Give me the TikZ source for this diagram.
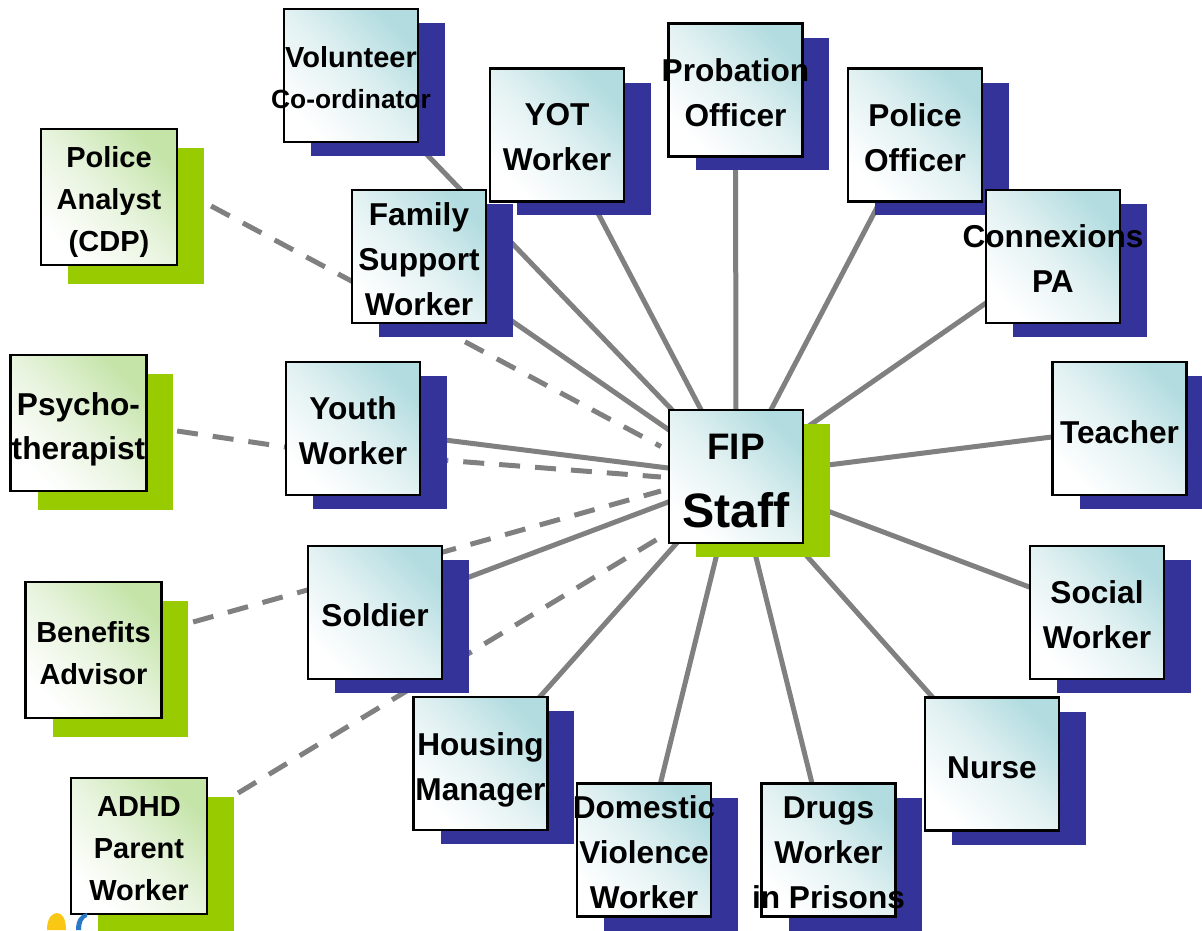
\documentclass[tikz,border=0pt]{standalone}
\usepackage{fontspec}
\setmainfont{Liberation Sans}
\usetikzlibrary{shadows,backgrounds}
\definecolor{shblue}{RGB}{51,51,153}
\definecolor{shgreen}{RGB}{153,204,0}
\definecolor{topcyan}{RGB}{178,220,224}
\definecolor{midcyan}{RGB}{226,241,242}
\definecolor{topgreen}{RGB}{196,228,168}
\definecolor{midgreen}{RGB}{232,244,222}
\definecolor{linegrey}{RGB}{128,128,128}
\definecolor{logoyellow}{RGB}{250,200,20}
\definecolor{logoblue}{RGB}{40,120,200}
\tikzset{
  box/.style={draw=black, line width=1.3pt, minimum width=2.68cm, minimum height=2.66cm, inner sep=0pt},
  bluebox/.style={box, top color=topcyan, bottom color=white, middle color=midcyan, shading angle=-45,
    general shadow={fill=shblue, shadow xshift=0.54cm, shadow yshift=-0.28cm}},
  greenbox/.style={box, minimum width=2.72cm, minimum height=2.72cm, top color=topgreen, bottom color=white,
    middle color=midgreen, shading angle=-45,
    general shadow={fill=shgreen, shadow xshift=0.54cm, shadow yshift=-0.38cm}},
  lbl/.style={align=center, inner sep=0pt, yshift=-0.05cm, font=\bfseries\fontsize{18}{25.6}\selectfont},
  glbl/.style={align=center, inner sep=0pt, yshift=-0.06cm, font=\bfseries\fontsize{16.5}{23.9}\selectfont},
  link/.style={draw=linegrey, line width=0.1cm},
  dlink/.style={link, dash pattern=on 0.42cm off 0.3cm},
}
\begin{document}
\begin{tikzpicture}[x=0.02cm, y=-0.02cm]
\useasboundingbox (0,0) rectangle (1202,930);

% blue boxes
\node[bluebox] (vol)   at (351,75.5)   {};
\node[bluebox] (yot)   at (557,135)    {};
\node[bluebox] (prob)  at (735.5,90)   {};
\node[bluebox] (polo)  at (915,135)    {};
\node[bluebox] (conn)  at (1053,256.5) {};
\node[bluebox] (teach) at (1119.5,428.5) {};
\node[bluebox] (soc)   at (1097,612.5) {};
\node[bluebox] (nurse) at (992,764)    {};
\node[bluebox] (drugs) at (828.5,850)  {};
\node[bluebox] (dv)    at (644,850)    {};
\node[bluebox] (house) at (480.5,763.5) {};
\node[bluebox] (sold)  at (375,612.5)  {};
\node[bluebox] (youth) at (353,428.5)  {};
\node[bluebox] (fam)   at (419,256.5)  {};
% centre
\node[bluebox, general shadow={fill=shgreen, shadow xshift=0.54cm, shadow yshift=-0.28cm}] (fip) at (736,476.5) {};
% green boxes
\node[greenbox] (pa)   at (109,197)  {};
\node[greenbox] (psy)  at (78.5,423) {};
\node[greenbox] (ben)  at (93.5,650) {};
\node[greenbox] (adhd) at (139,846)  {};

% labels
\node[lbl, font=\bfseries\fontsize{15}{23.3}\selectfont] (vol-t) at (vol.center)
  {{\fontsize{16.5}{23.3}\selectfont Volunteer}\\Co-ordinator};
\node[lbl] (yot-t)   at (yot)   {YOT\\Worker};
\node[lbl] (prob-t)  at (prob)  {Probation\\Officer};
\node[lbl] (polo-t)  at (polo)  {Police\\Officer};
\node[lbl] (conn-t)  at (conn)  {Connexions\\PA};
\node[lbl] (teach-t) at ([yshift=-0.03cm]teach.center) {Teacher};
\node[lbl] (soc-t)   at (soc)   {Social\\Worker};
\node[lbl] (nurse-t) at ([yshift=-0.02cm]nurse.center) {Nurse};
\node[lbl] (drugs-t) at (drugs) {Drugs\\Worker\\in Prisons};
\node[lbl] (dv-t)    at (dv)    {Domestic\\Violence\\Worker};
\node[lbl] (house-t) at ([yshift=-0.07cm]house.center) {Housing\\Manager};
\node[lbl] (sold-t)  at (sold)  {Soldier};
\node[lbl] (youth-t) at (youth) {Youth\\Worker};
\node[lbl] (fam-t)   at (fam)   {Family\\Support\\Worker};
\node[lbl, font=\bfseries\fontsize{27.5}{38.7}\selectfont] (fip-t) at ([yshift=-0.04cm]fip.center)
  {{\fontsize{21}{25}\selectfont FIP}\\Staff};
\node[glbl] (pa-t)   at ([yshift=-0.04cm]pa.center) {Police\\Analyst\\(CDP)};
\node[glbl, font=\bfseries\fontsize{18}{25}\selectfont] (psy-t) at ([yshift=-0.06cm]psy.center) {Psycho-\\therapist};
\node[glbl] (ben-t)  at (ben)  {Benefits\\Advisor};
\node[glbl] (adhd-t) at (adhd) {ADHD\\Parent\\Worker};

% connectors
\begin{scope}[on background layer]
  \foreach \n in {vol,yot,prob,polo,conn,teach,soc,nurse,drugs,dv,house,sold,youth,fam}
    \draw[link] (fip.center) -- (\n.center);
  \coordinate (psy-via) at ([shift={(14,20.5)}]youth.west);
  \draw[dlink] ([shift={(33,9)}]pa.east) -- ([shift={(-7,-30)}]fip.west);
  \draw[dlink] ([shift={(29.5,8)}]psy.east) -- (psy-via) -- ([shift={(-7,0.5)}]fip.west);
  \draw[dlink] ([shift={(30.5,-28)}]ben.east) -- ([shift={(-7,14.5)}]fip.west);
  \draw[dlink] ([shift={(30,-53)}]adhd.east) -- ([shift={(-7,60.5)}]fip.west);
\end{scope}

% logo fragment at the bottom edge
\fill[logoyellow] (47,930) .. controls (47,918) and (52,913) .. (57,913)
  .. controls (63,913) and (66,920) .. (66,930) -- cycle;
\fill[logoblue] (76,930) .. controls (76,920) and (80,914) .. (87,913)
  -- (87,917) .. controls (83,918) and (81,923) .. (81,930) -- cycle;
\end{tikzpicture}
\end{document}
